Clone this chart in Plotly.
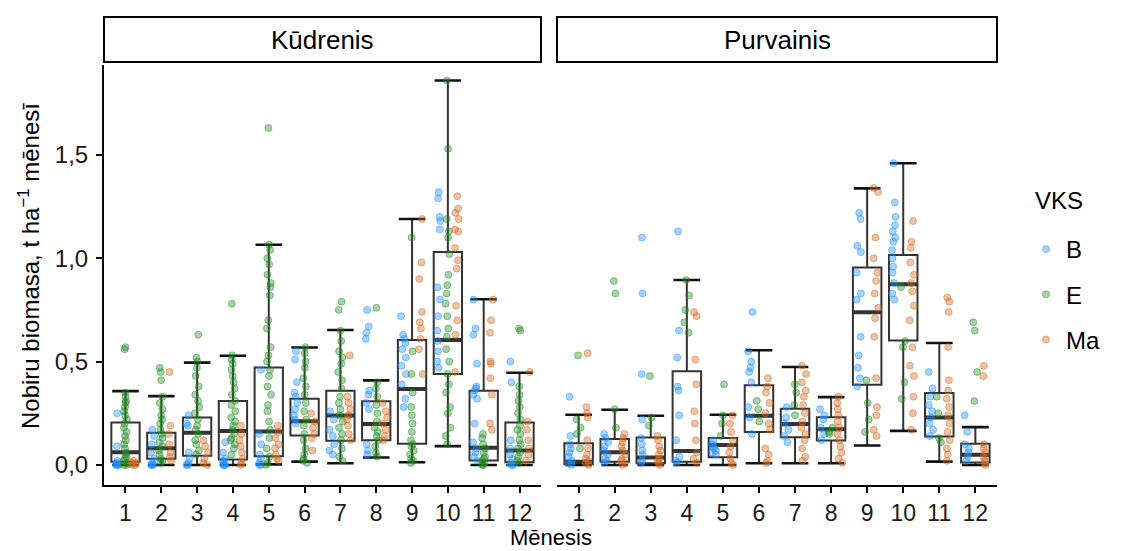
import plotly.graph_objects as go

months = list(range(1, 13))
month_labels = [str(m) for m in months]
facet_names = ["Kūdrenis", "Purvainis"]
vks_names = ["B", "E", "Ma"]
vks_colors = ["30,144,255", "34,139,34", "210,105,30"]
y_tickvals = [0.0, 0.5, 1.0, 1.5]
y_ticktext = ["0,0", "0,5", "1,0", "1,5"]

# ---- box statistics ----
kud_q1 = [0.016, 0.030, 0.045, 0.026, 0.042, 0.143, 0.117, 0.120, 0.102, 0.440, 0.021, 0.013]
kud_med = [0.062, 0.081, 0.156, 0.164, 0.162, 0.211, 0.239, 0.198, 0.367, 0.605, 0.083, 0.070]
kud_q3 = [0.205, 0.156, 0.229, 0.310, 0.472, 0.320, 0.359, 0.308, 0.605, 1.030, 0.359, 0.205]
kud_lo = [0.000, 0.000, 0.000, 0.000, 0.003, 0.016, 0.008, 0.036, 0.013, 0.091, 0.000, 0.000]
kud_hi = [0.357, 0.333, 0.495, 0.528, 1.065, 0.568, 0.653, 0.409, 1.190, 1.860, 0.802, 0.446]

pur_q1 = [0.003, 0.016, 0.008, 0.016, 0.037, 0.159, 0.134, 0.118, 0.388, 0.602, 0.138, 0.012]
pur_med = [0.016, 0.061, 0.036, 0.068, 0.097, 0.238, 0.198, 0.173, 0.739, 0.874, 0.230, 0.049]
pur_q3 = [0.105, 0.125, 0.133, 0.453, 0.130, 0.385, 0.272, 0.231, 0.955, 1.016, 0.348, 0.102]
pur_lo = [0.000, 0.000, 0.000, 0.000, 0.000, 0.008, 0.008, 0.008, 0.094, 0.165, 0.016, 0.000]
pur_hi = [0.243, 0.267, 0.238, 0.895, 0.243, 0.555, 0.474, 0.328, 1.338, 1.460, 0.590, 0.183]

# ---- individual observations, one list per month ----
kud_B = [
    [0.25, 0.09, 0.0, 0.0, 0.005, 0.01, 0.0, 0.02],
    [0.17, 0.14, 0.10, 0.06, 0.03, 0.01, 0.0, 0.0, 0.0],
    [0.24, 0.20, 0.19, 0.06, 0.03, 0.01, 0.0, 0.0],
    [0.11, 0.06, 0.03, 0.02, 0.01, 0.0, 0.0, 0.0],
    [0.46, 0.15, 0.10, 0.05, 0.03, 0.01, 0.0, 0.0],
    [0.55, 0.51, 0.40, 0.35, 0.33, 0.30, 0.27, 0.24, 0.22, 0.20],
    [0.26, 0.22, 0.17, 0.14, 0.10, 0.07, 0.05],
    [0.75, 0.67, 0.64, 0.61, 0.36, 0.34, 0.30, 0.27, 0.10, 0.07, 0.05],
    [0.72, 0.63, 0.61, 0.59, 0.56, 0.52, 0.48, 0.44, 0.39, 0.32, 0.28],
    [1.32, 1.29, 1.20, 1.18, 1.14, 0.86, 0.80, 0.72, 0.65, 0.60, 0.55, 0.50, 0.47],
    [0.80, 0.66, 0.63, 0.49, 0.38, 0.37, 0.36, 0.34, 0.32, 0.20, 0.11, 0.08, 0.06, 0.04, 0.02],
    [0.50, 0.40, 0.12, 0.08, 0.05, 0.03, 0.01, 0.0, 0.0],
]
kud_E = [
    [0.57, 0.56, 0.35, 0.33, 0.31, 0.30, 0.28, 0.26, 0.24, 0.22, 0.20, 0.18, 0.16, 0.14, 0.12,
     0.10, 0.08, 0.06, 0.05, 0.04, 0.03, 0.02, 0.01, 0.0, 0.0],
    [0.47, 0.45, 0.41, 0.33, 0.30, 0.27, 0.24, 0.22, 0.20, 0.17, 0.15, 0.13, 0.11, 0.09, 0.07,
     0.05, 0.03, 0.02, 0.01],
    [0.63, 0.52, 0.50, 0.47, 0.43, 0.38, 0.34, 0.31, 0.28, 0.25, 0.22, 0.19, 0.17, 0.15, 0.12,
     0.10, 0.07, 0.05],
    [0.78, 0.53, 0.51, 0.49, 0.46, 0.43, 0.40, 0.37, 0.34, 0.31, 0.29, 0.26, 0.23, 0.21, 0.19,
     0.17, 0.15, 0.13, 0.12, 0.10, 0.08, 0.05],
    [1.63, 1.065, 1.04, 1.0, 0.97, 0.92, 0.88, 0.86, 0.82, 0.70, 0.66, 0.57, 0.53, 0.50, 0.46,
     0.43, 0.38, 0.34, 0.29, 0.26, 0.21, 0.17, 0.13, 0.08, 0.04, 0.01, 0.0],
    [0.57, 0.54, 0.50, 0.47, 0.42, 0.38, 0.34, 0.30, 0.26, 0.22, 0.19, 0.15, 0.12, 0.08, 0.05,
     0.03, 0.02, 0.01],
    [0.79, 0.75, 0.65, 0.60, 0.55, 0.52, 0.49, 0.45, 0.41, 0.37, 0.33, 0.30, 0.27, 0.24, 0.21,
     0.18, 0.15, 0.12, 0.08, 0.04, 0.02],
    [0.76, 0.40, 0.37, 0.33, 0.29, 0.25, 0.21, 0.18, 0.16, 0.14, 0.12, 0.09, 0.06, 0.04],
    [1.10, 0.55, 0.44, 0.35, 0.28, 0.24, 0.20, 0.16, 0.12, 0.10, 0.09, 0.07, 0.05, 0.03, 0.02, 0.01],
    [1.86, 1.53, 1.19, 1.13, 1.10, 1.02, 0.92, 0.87, 0.83, 0.78, 0.72, 0.66, 0.62, 0.56, 0.50,
     0.44, 0.39, 0.35, 0.28, 0.25, 0.18, 0.14, 0.10],
    [0.15, 0.13, 0.10, 0.08, 0.06, 0.04, 0.03, 0.02, 0.01, 0.0, 0.0],
    [0.66, 0.65, 0.38, 0.34, 0.31, 0.28, 0.25, 0.22, 0.19, 0.17, 0.15, 0.12, 0.10, 0.08, 0.06,
     0.04, 0.02, 0.01],
]
kud_Ma = [
    [0.0, 0.01, 0.0, 0.02, 0.01],
    [0.45, 0.19, 0.15, 0.10, 0.06, 0.04, 0.02],
    [0.12, 0.09, 0.06, 0.03, 0.01, 0.0],
    [0.19, 0.15, 0.12, 0.09, 0.06, 0.03, 0.01, 0.0],
    [0.19, 0.16, 0.13, 0.10, 0.08, 0.05, 0.03, 0.02],
    [0.25, 0.21, 0.18, 0.15, 0.13, 0.07],
    [0.53, 0.33, 0.30, 0.27, 0.24, 0.22, 0.19, 0.15, 0.12],
    [0.30, 0.26, 0.23, 0.20, 0.17, 0.14, 0.12],
    [1.19, 0.98, 0.90, 0.74, 0.69, 0.66, 0.61, 0.56, 0.44],
    [1.30, 1.24, 1.22, 1.19, 1.14, 1.13, 1.05, 0.99, 0.95, 0.77, 0.70, 0.63, 0.45],
    [0.80, 0.70, 0.64, 0.50, 0.49, 0.42, 0.34, 0.20, 0.17],
    [0.45, 0.21, 0.17, 0.12, 0.08, 0.05, 0.02],
]

pur_B = [
    [0.33, 0.14, 0.10, 0.08, 0.06, 0.04, 0.02, 0.01, 0.0],
    [0.15, 0.13, 0.11, 0.09, 0.07, 0.05, 0.03, 0.02, 0.01],
    [1.10, 0.83, 0.44, 0.22, 0.13, 0.10, 0.07, 0.05, 0.02, 0.01],
    [1.13, 0.65, 0.52, 0.38, 0.36, 0.24, 0.12, 0.04, 0.02, 0.01],
    [0.12, 0.10, 0.09, 0.08, 0.07, 0.06, 0.05],
    [0.74, 0.55, 0.50, 0.47, 0.45, 0.40, 0.28, 0.23, 0.15],
    [0.28, 0.23, 0.20, 0.17, 0.14, 0.11],
    [0.27, 0.24, 0.22, 0.18, 0.15, 0.12],
    [1.22, 1.19, 1.06, 1.03, 0.93, 0.83, 0.80, 0.62, 0.53, 0.47, 0.42, 0.38],
    [1.46, 1.27, 1.20, 1.16, 1.13, 1.10, 1.08, 1.04, 1.00, 0.96, 0.93, 0.88, 0.83, 0.80],
    [0.45, 0.37, 0.33, 0.29, 0.26, 0.23, 0.20, 0.17, 0.14],
    [0.24, 0.16, 0.10, 0.08, 0.06, 0.04, 0.02],
]
pur_E = [
    [0.53, 0.22, 0.18, 0.15, 0.08],
    [0.89, 0.83, 0.27, 0.18],
    [0.43, 0.23, 0.19],
    [0.895, 0.82, 0.75, 0.69, 0.64],
    [0.39, 0.24, 0.20, 0.14],
    [0.31, 0.27, 0.21],
    [0.39, 0.35, 0.29, 0.24],
    [0.18, 0.16, 0.15],
    [0.41, 0.30, 0.22, 0.16],
    [0.86, 0.60, 0.57, 0.40, 0.32],
    [0.33, 0.25, 0.13, 0.11],
    [0.69, 0.65, 0.45, 0.31],
]
pur_Ma = [
    [0.54, 0.28, 0.25, 0.23, 0.12, 0.08, 0.05, 0.03, 0.02, 0.01, 0.0],
    [0.15, 0.13, 0.11, 0.09, 0.07, 0.05, 0.03, 0.02, 0.01, 0.0],
    [0.14, 0.12, 0.09, 0.07, 0.05, 0.03, 0.02, 0.01, 0.0],
    [0.74, 0.72, 0.51, 0.39, 0.26, 0.20, 0.12, 0.06, 0.03, 0.01],
    [0.24, 0.20, 0.16, 0.12, 0.09, 0.06, 0.03, 0.01, 0.0],
    [0.42, 0.38, 0.35, 0.30, 0.25, 0.20, 0.17, 0.08, 0.05, 0.02, 0.01],
    [0.48, 0.44, 0.40, 0.36, 0.33, 0.29, 0.25, 0.21, 0.18, 0.15, 0.12, 0.08, 0.04, 0.02],
    [0.33, 0.30, 0.27, 0.24, 0.21, 0.18, 0.15, 0.12, 0.09, 0.06, 0.03, 0.01],
    [1.34, 1.32, 1.10, 1.00, 0.93, 0.89, 0.83, 0.76, 0.71, 0.62, 0.42, 0.28, 0.24, 0.17, 0.14],
    [1.18, 1.08, 1.05, 0.98, 0.92, 0.88, 0.84, 0.77, 0.70, 0.57, 0.48, 0.43, 0.33, 0.25, 0.17],
    [0.81, 0.79, 0.74, 0.57, 0.41, 0.36, 0.32, 0.28, 0.24, 0.20, 0.16, 0.12, 0.08, 0.05, 0.02],
    [0.48, 0.43, 0.10, 0.08, 0.06, 0.04, 0.02, 0.01, 0.0],
]

facet_stats = [
    (kud_q1, kud_med, kud_q3, kud_lo, kud_hi),
    (pur_q1, pur_med, pur_q3, pur_lo, pur_hi),
]
facet_points = [
    [kud_B, kud_E, kud_Ma],
    [pur_B, pur_E, pur_Ma],
]

FONT = "Liberation Sans, Arial, sans-serif"
BOX_W = 0.79
CAP_W = 0.74
PT_W = 0.24
pointpos = [-2.0, 0.0, 2.0]
BOX_COL = "#333333"


def flat_line_box(vals, width, lw, xa, ya, color):
    # zero-height box drawn at the given values -> horizontal bar
    return go.Box(
        x=months, q1=vals, median=vals, q3=vals, lowerfence=vals, upperfence=vals,
        width=width, whiskerwidth=0, boxpoints=False,
        line=dict(color=color, width=lw), fillcolor="rgba(255,255,255,0)",
        xaxis=xa, yaxis=ya, showlegend=False, hoverinfo="skip",
    )


fig = go.Figure()

for f in range(2):
    xa = "x" if f == 0 else "x2"
    ya = "y" if f == 0 else "y2"
    q1, med, q3, lo, hi = facet_stats[f]
    fig.add_trace(go.Box(
        x=months, q1=q1, median=med, q3=q3, lowerfence=lo, upperfence=hi,
        width=BOX_W, whiskerwidth=0, boxpoints=False,
        line=dict(color=BOX_COL, width=2), fillcolor="rgba(255,255,255,0)",
        xaxis=xa, yaxis=ya, showlegend=False, hoverinfo="skip",
    ))
    fig.add_trace(flat_line_box(med, BOX_W, 4, xa, ya, BOX_COL))
    fig.add_trace(flat_line_box(hi, CAP_W, 2.6, xa, ya, "#111111"))
    fig.add_trace(flat_line_box(lo, CAP_W, 2.6, xa, ya, "#111111"))
    for k in range(3):
        groups = facet_points[f][k]
        xs = [m for m, vals in zip(months, groups) for _ in vals]
        ys = [v for vals in groups for v in vals]
        col = vks_colors[k]
        fig.add_trace(go.Box(
            x=xs, y=ys, width=PT_W, boxpoints="all", jitter=0.6, pointpos=pointpos[k],
            line=dict(width=0, color="rgba(0,0,0,0)"), fillcolor="rgba(0,0,0,0)",
            marker=dict(size=7, color=f"rgba({col},0.4)",
                        line=dict(width=1, color=f"rgba({col},0.45)")),
            xaxis=xa, yaxis=ya, showlegend=False, name=vks_names[k],
        ))

for k in range(3):
    col = vks_colors[k]
    fig.add_trace(go.Scatter(
        x=[None], y=[None], mode="markers", name=vks_names[k], legendgroup=vks_names[k],
        marker=dict(size=7, color=f"rgba({col},0.4)", line=dict(width=1, color=f"rgba({col},0.45)")),
    ))

# layout geometry (pixels in a 1138x551 canvas)
W, H = 1138, 551
L, R, T, B = 104, 997, 17, 485
pw, ph = R - L, B - T
panel_top = (B - 65) / ph
left_end = (541 - L) / pw
right_start = (557 - L) / pw
strip_y0 = (B - 62) / ph

TICK_SIZE = 23
TEXT_SIZE = 24

axis_common = dict(
    range=[0.4, 12.6], tickvals=months, ticktext=month_labels, ticks="outside",
    ticklen=6, tickwidth=1.5, tickcolor="black", showline=True, linecolor="black",
    linewidth=2, showgrid=False, zeroline=False, ticklabelstandoff=0,
    tickfont=dict(family=FONT, size=TICK_SIZE, color="#1a1a1a"),
)

fig.update_layout(
    width=W, height=H,
    margin=dict(l=L, r=W - R, t=T, b=H - B, autoexpand=False),
    paper_bgcolor="white", plot_bgcolor="white",
    font=dict(family=FONT, size=TEXT_SIZE, color="black"),
    boxmode="overlay",
    xaxis=dict(domain=[0, left_end], anchor="y", **axis_common),
    xaxis2=dict(domain=[right_start, 1], anchor="y2", **axis_common),
    yaxis=dict(
        domain=[0, panel_top], range=[-0.097, 1.935], tickvals=y_tickvals, ticktext=y_ticktext,
        ticks="outside", ticklen=6, tickwidth=1.5, tickcolor="black", showline=True,
        linecolor="black", linewidth=2, showgrid=False, zeroline=False, ticklabelstandoff=3,
        tickfont=dict(family=FONT, size=24, color="#1a1a1a"),
    ),
    yaxis2=dict(
        domain=[0, panel_top], range=[-0.097, 1.935], matches="y", anchor="x2",
        showticklabels=False, ticks="", showline=False, showgrid=False, zeroline=False,
    ),
    legend=dict(
        x=(1026 - L) / pw, y=(B - 227) / ph, xanchor="left", yanchor="top",
        font=dict(family=FONT, size=TEXT_SIZE), tracegroupgap=11, bgcolor="rgba(0,0,0,0)",
    ),
    showlegend=True,
)

for i, name in enumerate(facet_names):
    x0 = 0 if i == 0 else right_start
    x1 = left_end if i == 0 else 1
    fig.add_shape(type="rect", xref="paper", yref="paper", x0=x0, x1=x1, y0=strip_y0, y1=1,
                  line=dict(color="black", width=2), fillcolor="white", layer="above")
    fig.add_annotation(text=name, xref="paper", yref="paper", x=(x0 + x1) / 2,
                       y=(strip_y0 + 1) / 2, showarrow=False, xanchor="center", yanchor="middle",
                       font=dict(family=FONT, size=26, color="black"))

fig.add_annotation(text="Mēnesis", xref="paper", yref="paper", x=0.5, y=(B - 537) / ph,
                   showarrow=False, xanchor="center", yanchor="middle",
                   font=dict(family=FONT, size=22, color="black"))
fig.add_annotation(text="Nobiru biomasa, t ha<sup>−1</sup> mēnesī", xref="paper", yref="paper",
                   x=(29 - L) / pw, y=(B - 266) / ph, textangle=-90, showarrow=False,
                   xanchor="center", yanchor="middle",
                   font=dict(family=FONT, size=TEXT_SIZE, color="black"))
fig.add_annotation(text="VKS", xref="paper", yref="paper", x=(1033 - L) / pw, y=(B - 200) / ph,
                   showarrow=False, xanchor="left", yanchor="middle",
                   font=dict(family=FONT, size=TEXT_SIZE, color="black"))

fig.write_html("out.html")
